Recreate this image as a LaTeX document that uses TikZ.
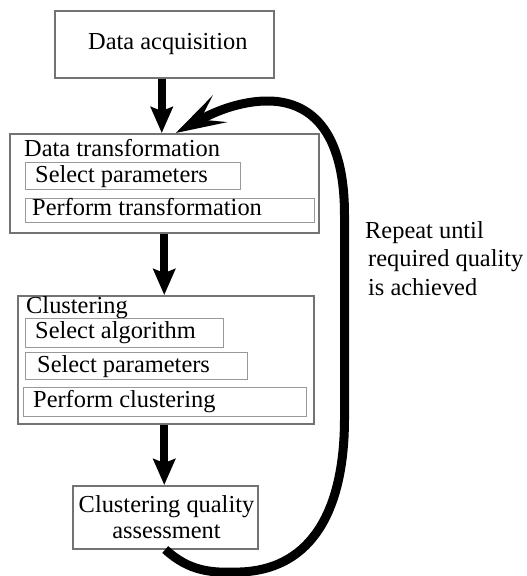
\documentclass[tikz,border=0pt]{standalone}
\usepackage{fontspec}
\setmainfont{Liberation Serif}
\usetikzlibrary{arrows.meta}

\begin{document}
\begin{tikzpicture}[x=1pt,y=-1pt,
  font=\fontsize{24.4}{28.5}\selectfont,
  outerbox/.style={draw=black!55, line width=1.5pt, fill=white, inner sep=0pt, anchor=north west},
  innerbox/.style={draw=black!40, line width=1.2pt, inner sep=0pt, anchor=north west},
  caption/.style={anchor=base west, inner sep=0pt},
  flow/.style={line width=8pt, -{Stealth[length=26pt, width=22pt, inset=4pt]}},
  loop/.style={line width=9pt, -{Stealth[length=50pt, width=30pt, inset=22pt]}}
]
\useasboundingbox (0,0) rectangle (527,576);

% acquisition step
\node[outerbox, minimum width=219pt, minimum height=67pt] (da) at (54,10) {};
\node[caption] (daT) at (88,49) {Data acquisition};

% transformation step
\node[outerbox, minimum width=309pt, minimum height=99pt] (dt) at (9,133) {};
\node[caption] (dtT) at (24,156) {Data transformation};
\node[innerbox, minimum width=215pt, minimum height=27pt] (dt1) at (25,162) {};
\node[caption] (dt1T) at (35,182) {Select parameters};
\node[innerbox, minimum width=289pt, minimum height=24pt] (dt2) at (25,198) {};
\node[caption] (dt2T) at (32,215) {Perform transformation};

% clustering step
\node[outerbox, minimum width=296pt, minimum height=128pt] (cl) at (17,295) {};
\node[caption] (clT) at (26,313) {Clustering};
\node[innerbox, minimum width=198pt, minimum height=29pt] (cl1) at (25,318) {};
\node[caption] (cl1T) at (35,338) {Select algorithm};
\node[innerbox, minimum width=222pt, minimum height=27pt] (cl2) at (25,352) {};
\node[caption] (cl2T) at (37,372) {Select parameters};
\node[innerbox, minimum width=283pt, minimum height=29pt] (cl3) at (23,387) {};
\node[caption] (cl3T) at (33,407) {Perform clustering};

% assessment step (base anchor sits on the last line)
\node[outerbox, minimum width=185pt, minimum height=63pt] (qa) at (72,485) {};
\node[anchor=base, inner sep=0pt, align=center,
      font=\fontsize{24.4}{26}\selectfont] (qaT) at (166.5,538)
  {Clustering quality\\assessment};

% loop annotation
\node[anchor=base west, inner sep=0pt, align=left] (rep) at (365,295)
  {Repeat until\\\hspace*{3pt}required quality\\\hspace*{3pt}is achieved};

% forward arrows
\draw[flow] ([xshift=-2.5pt]da.south) -- ([xshift=-2.5pt]da.south |- dt.north);
\draw[flow] (dt.south) -- (dt.south |- cl.north);
\draw[flow] ([xshift=-1.5pt]cl.south) -- ([xshift=-1.5pt]cl.south |- qa.north);

% feedback loop
\coordinate (back) at ([xshift=11.5pt]dt.north);
\draw[loop] (qa.south)
  .. controls (190,572) and (212,573) .. (240,572)
  .. controls (305,570) and (344,520) .. (344.5,420)
  -- (344.5,215)
  .. controls (344.5,130) and (310,100) .. (265,101)
  .. controls (232,102) and (205,117) .. (back);
\end{tikzpicture}
\end{document}
